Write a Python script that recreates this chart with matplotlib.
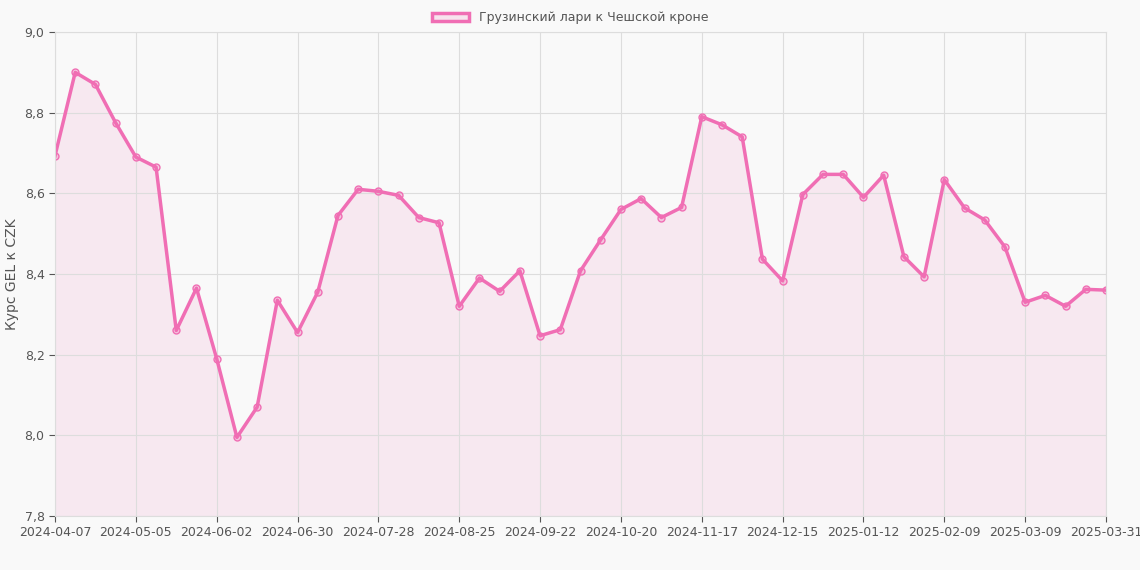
import matplotlib
matplotlib.use("Agg")
import matplotlib.pyplot as plt
from matplotlib.patches import Patch

labels_all = ["2024-04-07","2024-05-05","2024-06-02","2024-06-30","2024-07-28","2024-08-25",
              "2024-09-22","2024-10-20","2024-11-17","2024-12-15","2025-01-12","2025-02-09",
              "2025-03-09","2025-03-31"]
values = [8.693,8.90,8.87,8.775,8.69,8.665,8.26,8.365,8.19,7.995,8.07,8.335,8.255,8.355,
          8.545,8.61,8.605,8.595,8.54,8.527,8.32,8.39,8.357,8.408,8.247,8.262,8.408,8.485,
          8.56,8.587,8.54,8.565,8.79,8.77,8.74,8.437,8.383,8.597,8.647,8.647,8.59,8.645,
          8.443,8.393,8.634,8.564,8.534,8.467,8.33,8.347,8.32,8.362,8.36]
series_name = "Грузинский лари к Чешской кроне"

x = list(range(len(values)))
tick_pos = list(range(0, 49, 4)) + [len(values) - 1]

fig = plt.figure(figsize=(11.4, 5.7), dpi=100)
fig.patch.set_facecolor("#f9f9f9")
ax = fig.add_axes([55/1140, 1-516/570, (1106-55)/1140, (516-32)/570])
ax.set_facecolor("#f9f9f9")
col = "#f06eb4"
ax.fill_between(x, values, 7.8, color=col, alpha=0.12, lw=0)
ax.plot(x, values, color=col, lw=2.5, marker="o", ms=5, mfc=(0.94,0.43,0.7,0.3), mec=col, mew=1)
ax.set_xlim(0, len(values)-1)
ax.set_ylim(7.8, 9.0)
ax.set_yticks([7.8,8.0,8.2,8.4,8.6,8.8,9.0])
ax.set_yticklabels([f"{v:.1f}".replace(".", ",") for v in [7.8,8.0,8.2,8.4,8.6,8.8,9.0]])
ax.set_xticks(tick_pos)
ax.set_xticklabels(labels_all)
ax.grid(True, color="#dddddd", lw=0.8)
for s in ax.spines.values():
    s.set_color("#dddddd")
ax.tick_params(colors="#555555", labelsize=9, length=4)
ax.set_ylabel("Курс GEL к CZK", color="#555555", fontsize=10)
fig.legend(handles=[Patch(facecolor=(0.94,0.43,0.7,0.15), edgecolor=col, lw=2.5)],
           labels=[series_name], loc="upper center", bbox_to_anchor=(0.5, 1.0),
           frameon=False, fontsize=9, labelcolor="#555555", handlelength=3)
fig.savefig("out.png", dpi=100, facecolor=fig.get_facecolor())
